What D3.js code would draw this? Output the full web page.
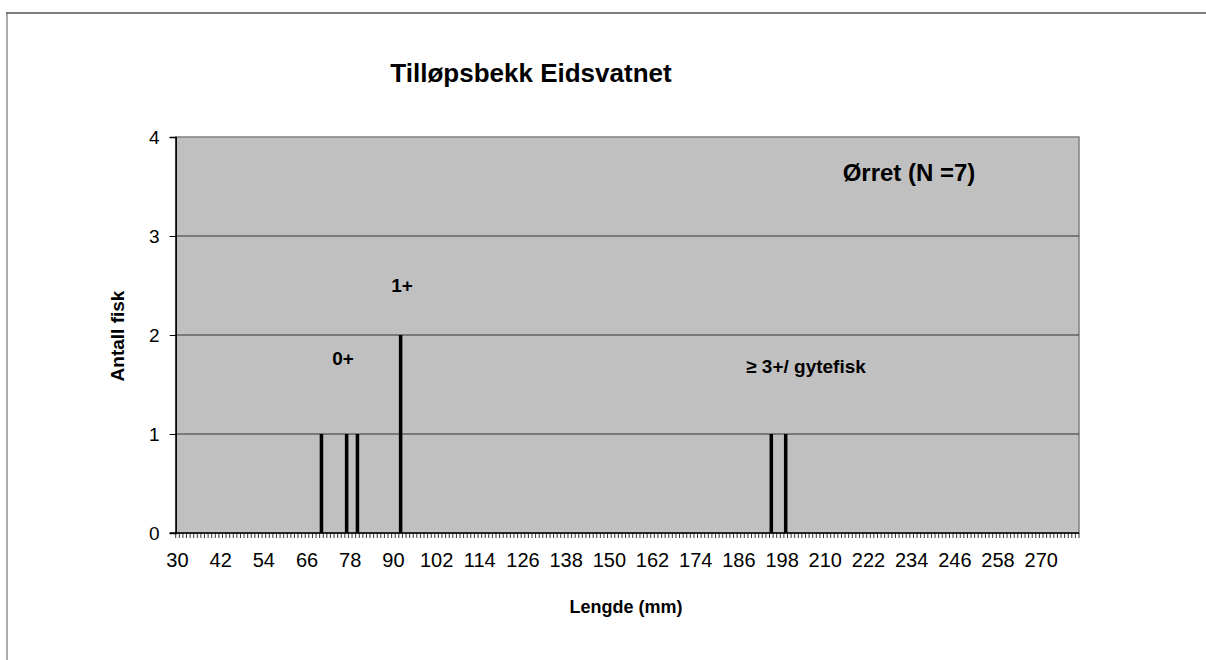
<!DOCTYPE html>
<html><head><meta charset="utf-8">
<script src="https://cdn.jsdelivr.net/npm/d3@7"></script>
<style>body{margin:0;background:#fff}svg{display:block}text{font-family:"Liberation Sans",Arial,sans-serif}</style>
</head><body>
<svg id="c" width="1206" height="660"></svg>
<script>
// Length categories (mm) on the x axis: 30 .. 280
const categories = d3.range(30, 281);
// Observed fish lengths and counts
const barLengths = [70, 77, 80, 92, 195, 199];
const barCounts  = [1, 1, 1, 2, 1, 1];
const xTickLabels = [30,42,54,66,78,90,102,114,126,138,150,162,174,186,198,210,222,234,246,258,270];
const yTicks = [0,1,2,3,4];
const title = "Tilløpsbekk Eidsvatnet";

const svg = d3.select("#c");
const L = 175.7, R = 1079, T = 137, B = 533;

// outer frame
svg.append("line").attr("x1",7).attr("x2",7).attr("y1",13).attr("y2",660).attr("stroke","#aaa").attr("stroke-width",2);
svg.append("line").attr("x1",6).attr("x2",1206).attr("y1",13).attr("y2",13).attr("stroke","#555").attr("stroke-width",1.5);

const x = d3.scaleBand().domain(categories).range([L, R]).paddingInner(0.02).paddingOuter(0.01);
const y = d3.scaleLinear().domain([0,4]).range([B, T]);

// plot area
svg.append("rect").attr("x",L).attr("y",T).attr("width",R-L).attr("height",B-T)
  .attr("fill","#c0c0c0").attr("stroke","#808080").attr("stroke-width",1.5);

// gridlines
svg.append("g").selectAll("line").data(yTicks.filter(d=>d>0 && d<4)).join("line")
  .attr("x1",L).attr("x2",R).attr("y1",d=>y(d)).attr("y2",d=>y(d))
  .attr("stroke","#333").attr("stroke-width",1);

// bars
svg.append("g").selectAll("rect").data(barLengths).join("rect")
  .attr("x",(d)=>x(d)).attr("width",x.bandwidth())
  .attr("y",(d,i)=>y(barCounts[i])).attr("height",(d,i)=>B-y(barCounts[i]))
  .attr("fill","#000");

// y axis
const yAxis = d3.axisLeft(y).tickValues(yTicks).tickSize(6).tickPadding(10).tickFormat(d3.format("d"));
const gy = svg.append("g").attr("transform",`translate(${L},0)`).call(yAxis);
gy.select(".domain").attr("stroke","#000").attr("stroke-width",1.5);
gy.selectAll(".tick line").attr("stroke","#000");
gy.selectAll("text").attr("font-size",19).attr("fill","#000");

// x axis minor ticks at every category boundary
const gx = svg.append("g");
gx.selectAll("line.minor").data(categories.concat([281])).join("line")
  .attr("x1",(d,i)=>L + i*((R-L)/categories.length)).attr("x2",(d,i)=>L + i*((R-L)/categories.length))
  .attr("y1",B).attr("y2",B+5).attr("stroke","#000").attr("stroke-width",0.8);
gx.append("line").attr("x1",L-6).attr("x2",R).attr("y1",B).attr("y2",B).attr("stroke","#000").attr("stroke-width",1.5);
gx.selectAll("text").data(xTickLabels).join("text")
  .attr("x",d=>x(d)+x.bandwidth()/2).attr("y",B+34)
  .attr("text-anchor","middle").attr("font-size",20).text(d=>d);

// titles
svg.append("text").attr("x",531).attr("y",82).attr("text-anchor","middle")
  .attr("font-size",26).attr("font-weight","bold").text(title);
svg.append("text").attr("x",626).attr("y",613).attr("text-anchor","middle")
  .attr("font-size",18).attr("font-weight","bold").text("Lengde (mm)");
svg.append("text").attr("transform","translate(124,336) rotate(-90)").attr("text-anchor","middle")
  .attr("font-size",19).attr("font-weight","bold").text("Antall fisk");

// annotations
svg.append("text").attr("x",909).attr("y",181).attr("text-anchor","middle")
  .attr("font-size",24).attr("font-weight","bold").text("Ørret (N =7)");
svg.append("text").attr("x",402).attr("y",292).attr("text-anchor","middle")
  .attr("font-size",19).attr("font-weight","bold").text("1+");
svg.append("text").attr("x",343).attr("y",365).attr("text-anchor","middle")
  .attr("font-size",19).attr("font-weight","bold").text("0+");
svg.append("text").attr("x",806).attr("y",373).attr("text-anchor","middle")
  .attr("font-size",19).attr("font-weight","bold").text("≥ 3+/ gytefisk");
</script>
</body></html>
